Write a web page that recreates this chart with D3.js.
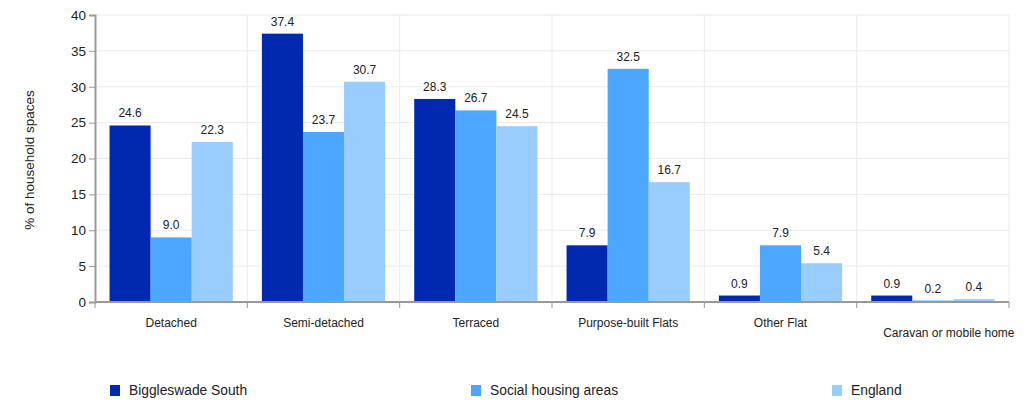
<!DOCTYPE html>
<html><head><meta charset="utf-8">
<script src="https://cdn.jsdelivr.net/npm/d3@7"></script>
<style>body{margin:0;background:#fff;font-family:"Liberation Sans",Arial,sans-serif}</style>
</head><body><svg id="c" width="1030" height="400"></svg>
<script>
const categories = ["Detached","Semi-detached","Terraced","Purpose-built Flats","Other Flat","Caravan or mobile home"];
const seriesNames = ["Biggleswade South","Social housing areas","England"];
const biggleswade = [24.6,37.4,28.3,7.9,0.9,0.9];
const social = [9.0,23.7,26.7,32.5,7.9,0.2];
const england = [22.3,30.7,24.5,16.7,5.4,0.4];
const yTicks = [0,5,10,15,20,25,30,35,40];
const colors = ["#0029b0","#4da6ff","#99ccff"];

(function(){
const series = [biggleswade, social, england];
const svg = d3.select("#c");
const pL = 95, pR = 1009, pT = 15, pB = 302;
const x = d3.scaleBand().domain(categories).range([pL,pR]).paddingInner(0).paddingOuter(0);
const xs = d3.scaleBand().domain(seriesNames).range([0,x.bandwidth()]).paddingInner(0).paddingOuter(0.354);
const y = d3.scaleLinear().domain([0,40]).range([pB,pT]);
const font = "Liberation Sans, Arial, sans-serif";

// grid
svg.append("g").selectAll("line").data(yTicks.filter(d=>d>0)).join("line")
  .attr("x1",pL).attr("x2",pR).attr("y1",d=>y(d)).attr("y2",d=>y(d))
  .attr("stroke","#ebebeb").attr("stroke-width",1);
svg.append("g").selectAll("line").data(categories.slice(1).concat(["__end"])).join("line")
  .attr("x1",d=>d==="__end"?pR:x(d)).attr("x2",d=>d==="__end"?pR:x(d))
  .attr("y1",pT).attr("y2",pB).attr("stroke","#ebebeb");

// bars
const g = svg.append("g");
series.forEach((vals,si)=>{
  g.selectAll(null).data(vals).join("rect")
    .attr("x",(d,i)=>x(categories[i])+xs(seriesNames[si]))
    .attr("width",xs.bandwidth())
    .attr("y",d=>y(d)).attr("height",d=>pB-y(d))
    .attr("fill",colors[si]);
  g.selectAll(null).data(vals).join("text")
    .attr("x",(d,i)=>x(categories[i])+xs(seriesNames[si])+xs.bandwidth()/2)
    .attr("y",d=>y(d)-8)
    .attr("text-anchor","middle").attr("font-family",font).attr("font-size",12).attr("fill","#222")
    .text(d=>d.toFixed(1));
});

// y axis
const yAxis = svg.append("g").attr("transform",`translate(${pL},0)`)
  .call(d3.axisLeft(y).tickValues(yTicks).tickSize(6).tickPadding(3).tickFormat(d3.format("d")));
yAxis.select(".domain").attr("stroke","#999").attr("stroke-width",2);
yAxis.selectAll(".tick line").attr("stroke","#999").attr("stroke-width",1);
yAxis.selectAll("text").attr("font-family",font).attr("font-size",13.5).attr("fill","#222");

// x axis
const xAxis = svg.append("g").attr("transform",`translate(0,${pB})`);
xAxis.append("line").attr("x1",pL).attr("x2",pR).attr("stroke","#999").attr("stroke-width",2);
xAxis.selectAll(null).data(categories.concat(["__end"])).join("line")
  .attr("x1",d=>d==="__end"?pR:x(d)).attr("x2",d=>d==="__end"?pR:x(d))
  .attr("y1",0).attr("y2",6).attr("stroke","#999");
xAxis.selectAll(null).data(categories).join("text")
  .attr("x",(d,i)=>x(d)+x.bandwidth()/2 + (i===5?16:0))
  .attr("y",(d,i)=>i===5?35:25)
  .attr("text-anchor","middle").attr("font-family",font).attr("font-size",12).attr("fill","#222")
  .text(d=>d);

// y title
svg.append("text").attr("transform","translate(34,160) rotate(-90)")
  .attr("text-anchor","middle").attr("font-family",font).attr("font-size",13.5).attr("fill","#222")
  .text("% of household spaces");

// legend
const legX = [110,471,832];
const leg = svg.append("g");
seriesNames.forEach((s,i)=>{
  leg.append("rect").attr("x",legX[i]).attr("y",385).attr("width",10).attr("height",11).attr("fill",colors[i]);
  leg.append("text").attr("x",legX[i]+19).attr("y",395).attr("font-family",font).attr("font-size",13.8).attr("fill","#222").text(s);
});
})();
</script></body></html>
